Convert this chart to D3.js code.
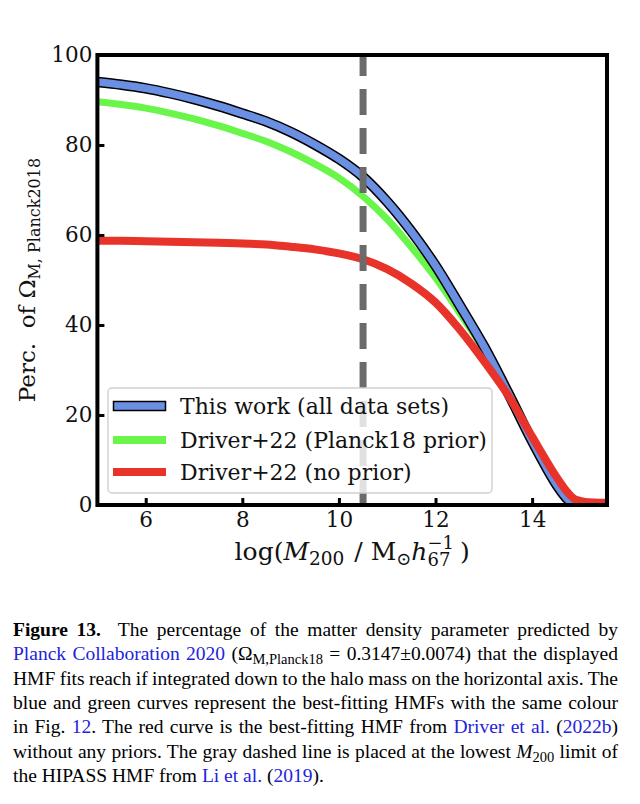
<!DOCTYPE html>
<html>
<head>
<meta charset="utf-8">
<script src="https://cdn.jsdelivr.net/npm/d3@7"></script>
<style>
  body { margin: 0; background: #fff; }
  svg { display: block; }
</style>
</head>
<body>
<div id="chart"></div>
<script>
// values (percentage of Omega_M vs log halo mass)
const logMass       = [5, 5.5, 6, 6.5, 7, 7.5, 8, 8.5, 9, 9.5, 10, 10.5, 11, 11.5, 12, 12.5, 13, 13.5, 14, 14.5, 14.75, 14.9, 15.1, 15.3, 15.55];
const thisWork      = [94.0, 93.4, 92.6, 91.5, 90.2, 88.7, 87.0, 85.2, 82.9, 80.1, 76.9, 72.9, 67.4, 60.8, 53.2, 44.4, 35.3, 25.0, 14.2, 4.6, 1.1, 0, null, null, null];
const driverPlanck  = [89.6, 89.0, 88.2, 87.1, 85.8, 84.3, 82.6, 80.8, 78.5, 75.8, 72.7, 68.6, 63.5, 57.3, 50.5, 42.7, 34.5, 24.8, 14.3, 4.8, 1.4, 0, null, null, null];
const driverNoPrior = [58.7, 58.7, 58.6, 58.5, 58.4, 58.3, 58.1, 57.9, 57.4, 56.8, 55.9, 54.6, 52.4, 49.2, 45.0, 39.0, 32.0, 24.4, 15.2, 6.3, 2.6, 1.2, 0.7, 0.55, 0.5];
const seriesNames   = ["This work (all data sets)", "Driver+22 (Planck18 prior)", "Driver+22 (no prior)"];
const seriesColors  = ["#6a8fe3", "#6af54a", "#e8332a"];
const xTicks = [6, 8, 10, 12, 14];
const yTicks = [0, 20, 40, 60, 80, 100];
const hipassLimit = 10.5;

const width = 640, height = 804;
const margin = { left: 97.4, right: 33, top: 55, bottom: 299 };
const serif = '"DejaVu Serif", serif';

const svg = d3.select("#chart").append("svg")
  .attr("width", width)
  .attr("height", height);

const x = d3.scaleLinear().domain([5, 15.55]).range([margin.left, width - margin.right]);
const y = d3.scaleLinear().domain([0, 100]).range([height - margin.bottom, margin.top]);

// clip curves to the axes box
svg.append("clipPath").attr("id", "plotClip")
  .append("rect")
  .attr("x", x.range()[0]).attr("y", y.range()[1])
  .attr("width", x.range()[1] - x.range()[0])
  .attr("height", y.range()[0] - y.range()[1]);

const line = d3.line()
  .defined(d => d[1] != null)
  .x(d => x(d[0]))
  .y(d => y(d[1]))
  .curve(d3.curveCatmullRom.alpha(0.5));

const toPts = vals => logMass.map((m, i) => [m, vals[i]]);

const plot = svg.append("g").attr("clip-path", "url(#plotClip)");

// green first, then blue with a black edge, red on top
plot.append("path").attr("d", line(toPts(driverPlanck)))
  .attr("fill", "none").attr("stroke", seriesColors[1]).attr("stroke-width", 7);
plot.append("path").attr("d", line(toPts(thisWork)))
  .attr("fill", "none").attr("stroke", "#000").attr("stroke-width", 10.5);
plot.append("path").attr("d", line(toPts(thisWork)))
  .attr("fill", "none").attr("stroke", seriesColors[0]).attr("stroke-width", 7.5);
plot.append("path").attr("d", line(toPts(driverNoPrior)))
  .attr("fill", "none").attr("stroke", seriesColors[2]).attr("stroke-width", 8);

// HIPASS lower mass limit (drawn from the bottom up, like the original)
plot.append("path")
  .attr("d", d3.line()([[x(hipassLimit), y(0)], [x(hipassLimit), y(100)]]))
  .attr("stroke", "#6b6b6b")
  .attr("stroke-width", 7)
  .attr("stroke-dasharray", "26,13");

// axes with inward ticks
const xAxis = svg.append("g")
  .attr("transform", `translate(0,${y(0)})`)
  .call(d3.axisBottom(x).tickValues(xTicks).tickSize(-7).tickPadding(7).tickFormat(d3.format("d")));
const yAxis = svg.append("g")
  .attr("transform", `translate(${x(5)},0)`)
  .call(d3.axisLeft(y).tickValues(yTicks).tickSize(-7).tickPadding(5).tickFormat(d3.format("d")));

[xAxis, yAxis].forEach(g => {
  g.select(".domain").remove();
  g.selectAll(".tick line").attr("stroke", "#000").attr("stroke-width", 3);
  g.selectAll(".tick text")
    .attr("fill", "#111")
    .style("font-family", serif)
    .style("font-size", "21.5px");
});

// frame
svg.append("rect")
  .attr("x", x.range()[0]).attr("y", y.range()[1])
  .attr("width", x.range()[1] - x.range()[0])
  .attr("height", y.range()[0] - y.range()[1])
  .attr("fill", "none")
  .attr("stroke", "#000")
  .attr("stroke-width", 4);

// helper: text made of pieces with sub/superscripts (shift in px, + is down)
function richText(sel, parts) {
  let cur = 0, prev = null;
  parts.forEach(p => {
    const shift = p.shift || 0;
    const ts = sel.append("tspan")
      .text(p.t)
      .attr("dy", shift - cur);
    if (p.size) ts.style("font-size", p.size + "px");
    if (p.italic) ts.style("font-style", "italic");
    if (p.bold) ts.style("font-weight", "bold");
    if (p.fill) ts.attr("fill", p.fill);
    if (p.dx) ts.attr("dx", p.dx);
    if (p.stackOn && prev) ts.attr("dx", -prev.node().getComputedTextLength());
    cur = shift;
    prev = ts;
  });
}

// x label
const xLabel = svg.append("text")
  .attr("x", (x.range()[0] + x.range()[1]) / 2)
  .attr("y", 560)
  .attr("text-anchor", "middle")
  .style("font-family", serif)
  .style("font-size", "25px")
  .style("white-space", "pre")
  .attr("fill", "#111");
richText(xLabel, [
  { t: "log(" },
  { t: "M", italic: true },
  { t: "200", size: 18.5, shift: 5 },
  { t: " / M", dx: 2 },
  { t: "⊙", size: 18, shift: 5 },
  { t: "h", italic: true },
  { t: "67", size: 18, shift: 6 },
  { t: "−1", size: 18, shift: -11, stackOn: true },
  { t: ")", dx: 6 }
]);

// y label
const yLabel = svg.append("text")
  .attr("transform", `translate(35,${(y.range()[0] + y.range()[1]) / 2}) rotate(-90)`)
  .attr("text-anchor", "middle")
  .style("font-family", serif)
  .style("font-size", "23px")
  .style("white-space", "pre")
  .attr("fill", "#111");
richText(yLabel, [
  { t: "Perc.  of Ω" },
  { t: "M, Planck2018", size: 16, shift: 5 }
]);

// legend
const legend = svg.append("g");
legend.append("rect")
  .attr("x", 108).attr("y", 388)
  .attr("width", 384).attr("height", 105)
  .attr("rx", 4)
  .attr("fill", "#fff").attr("fill-opacity", 0.8)
  .attr("stroke", "#cfcfcf").attr("stroke-width", 1.4);

const rowY = [406, 440, 472];
seriesNames.forEach((name, i) => {
  if (i === 0) {
    legend.append("rect")
      .attr("x", 113.5).attr("y", rowY[i] - 4.5)
      .attr("width", 52).attr("height", 9)
      .attr("fill", seriesColors[i])
      .attr("stroke", "#000").attr("stroke-width", 1.5);
  } else {
    legend.append("line")
      .attr("x1", 113).attr("x2", 166)
      .attr("y1", rowY[i]).attr("y2", rowY[i])
      .attr("stroke", seriesColors[i]).attr("stroke-width", 8);
  }
  legend.append("text")
    .attr("x", 180).attr("y", rowY[i])
    .attr("dy", "0.36em")
    .style("font-family", serif)
    .style("font-size", "22px")
    .attr("fill", "#111")
    .text(name);
});

// caption, justified line by line
const linkBlue = "#2323dc";
const captionLines = [
  [{ t: "Figure 13.", bold: true }, { t: "  The percentage of the matter density parameter predicted by" }],
  [{ t: "Planck Collaboration 2020", fill: linkBlue }, { t: " (Ω" }, { t: "M,Planck18", size: 14.5, shift: 4 }, { t: " = 0.3147±0.0074) that the displayed" }],
  [{ t: "HMF fits reach if integrated down to the halo mass on the horizontal axis. The" }],
  [{ t: "blue and green curves represent the best-fitting HMFs with the same colour" }],
  [{ t: "in Fig. " }, { t: "12", fill: linkBlue }, { t: ". The red curve is the best-fitting HMF from " }, { t: "Driver et al.", fill: linkBlue }, { t: " (" }, { t: "2022b", fill: linkBlue }, { t: ")" }],
  [{ t: "without any priors. The gray dashed line is placed at the lowest " }, { t: "M", italic: true }, { t: "200", size: 14.5, shift: 4 }, { t: " limit of" }],
  [{ t: "the HIPASS HMF from " }, { t: "Li et al.", fill: linkBlue }, { t: " (" }, { t: "2019", fill: linkBlue }, { t: ")." }]
];
const capLeft = 13, capWidth = 605, capTop = 636, capStep = 24.3;

captionLines.forEach((parts, i) => {
  const t = svg.append("text")
    .attr("x", capLeft)
    .attr("y", capTop + i * capStep)
    .style("font-family", '"Liberation Serif", "Times New Roman", serif')
    .style("font-size", "19.5px")
    .style("white-space", "pre")
    .attr("fill", "#000");
  richText(t, parts);
  if (i < captionLines.length - 1) {
    const natural = t.node().getComputedTextLength();
    const spaces = parts.map(p => p.t).join("").split(" ").length - 1;
    t.style("word-spacing", ((capWidth - natural) / spaces) + "px");
  }
});
</script>
</body>
</html>
